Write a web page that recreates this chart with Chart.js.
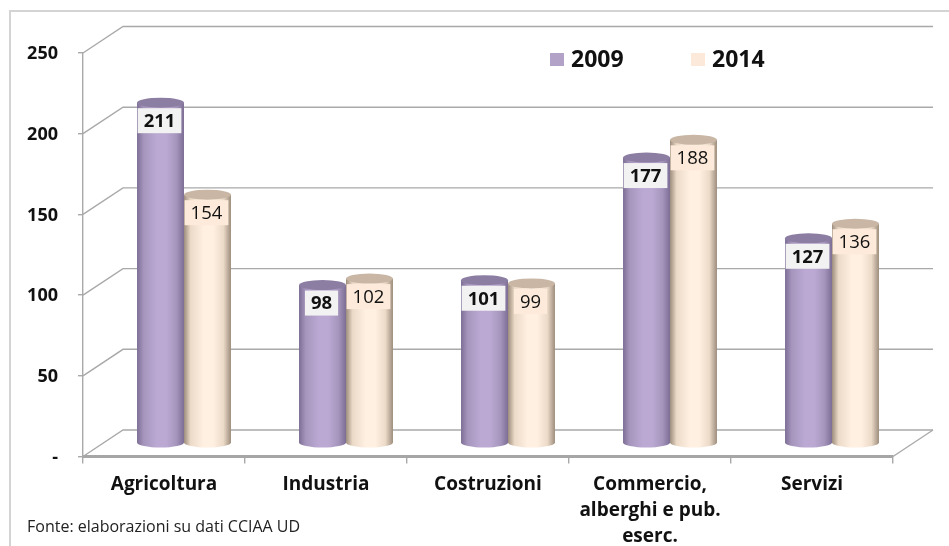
<!DOCTYPE html>
<html lang="it">
<head>
<meta charset="utf-8">
<title>Imprese per settore 2009-2014</title>
<style>
  html, body { margin: 0; padding: 0; background: #fff; }
  #wrap { width: 949px; height: 546px; }
</style>
<script src="https://cdn.jsdelivr.net/npm/chart.js@4"></script>
</head>
<body>
<div id="wrap"><canvas id="chart" width="949" height="546"></canvas></div>
<script>
/* ── Data ── */
const CATEGORIES = ['Agricoltura', 'Industria', 'Costruzioni', ['Commercio,', 'alberghi e pub.', 'eserc.'], 'Servizi'];
const VALUES_2009 = [211, 98, 101, 177, 127];
const VALUES_2014 = [154, 102, 99, 188, 136];
const Y_TICKS = { 0: '-', 50: '50', 100: '100', 150: '150', 200: '200', 250: '250' };
const SOURCE_NOTE = 'Fonte: elaborazioni su dati CCIAA UD';

/* ── Look of the pseudo-3D box ── */
const FONT = '"Open Sans", sans-serif';
const DEPTH_X = 40;
const DEPTH_Y = 26.5;
const GRID = '#a9a9a9';
const SKINS = [
  { edge: '#7d6e96', near: '#a595bc', mid: '#bba9d3', top: '#8c7da3', swatch: '#b3a2c7', box: '#f2f2f2', font: 'bold 18.5px ' + FONT },
  { edge: '#9d8d7c', near: '#ecdac8', mid: '#fff0e2', top: '#c9b6a4', swatch: '#fde9d9', box: '#fdeada', font: '18.5px ' + FONT },
];

/* ── Walls, floor and gridlines, behind the bars ── */
const boxPlugin = {
  id: 'box',
  beforeDatasetsDraw(chart) {
    const { ctx, chartArea: a, scales: { y } } = chart;
    ctx.save();
    ctx.strokeStyle = GRID;
    ctx.lineWidth = 1.4;
    y.ticks.forEach(t => {
      const py = y.getPixelForValue(t.value);
      ctx.beginPath();
      ctx.moveTo(a.left, py);
      ctx.lineTo(a.left + DEPTH_X, py - DEPTH_Y);
      ctx.lineTo(a.right + DEPTH_X, py - DEPTH_Y);
      ctx.stroke();
    });
    // right edge of the floor
    ctx.beginPath();
    ctx.moveTo(a.right, a.bottom);
    ctx.lineTo(a.right + DEPTH_X, a.bottom - DEPTH_Y);
    ctx.stroke();

    // y labels sit a touch lower than the stock tick text
    ctx.fillStyle = '#111';
    ctx.font = 'bold 18px ' + FONT;
    ctx.textAlign = 'right';
    ctx.textBaseline = 'middle';
    y.ticks.forEach(t => {
      ctx.fillText(Y_TICKS[t.value], 58, y.getPixelForValue(t.value) + 1);
    });
    ctx.restore();
  },
};

/* ── Cylinders, value boxes, legend and source note ── */
function drawCylinder(ctx, bar, skin) {
  const left = bar.x - bar.width / 2;
  const right = bar.x + bar.width / 2;
  const rx = bar.width / 2;
  const ry = 5;

  const grad = ctx.createLinearGradient(left, 0, right, 0);
  grad.addColorStop(0, skin.edge);
  grad.addColorStop(0.14, skin.near);
  grad.addColorStop(0.42, skin.mid);
  grad.addColorStop(0.62, skin.mid);
  grad.addColorStop(0.84, skin.near);
  grad.addColorStop(1, skin.edge);

  ctx.fillStyle = grad;
  ctx.beginPath();
  ctx.moveTo(left, bar.y);
  ctx.lineTo(left, bar.base);
  ctx.ellipse(bar.x, bar.base, rx, ry, 0, Math.PI, 0, true);
  ctx.lineTo(right, bar.y);
  ctx.closePath();
  ctx.fill();

  ctx.fillStyle = skin.top;
  ctx.beginPath();
  ctx.ellipse(bar.x, bar.y, rx, ry, 0, 0, Math.PI * 2);
  ctx.fill();
}

function drawValueBox(ctx, bar, value, skin) {
  ctx.font = skin.font;
  const w = ctx.measureText(value).width + 12;
  const cx = bar.x - 1;
  const cy = bar.y + 18;
  ctx.fillStyle = skin.box;
  ctx.fillRect(cx - w / 2, cy - 12.5, w, 25);
  ctx.fillStyle = '#111';
  ctx.textAlign = 'center';
  ctx.textBaseline = 'middle';
  ctx.fillText(value, cx, cy + 1);
}

const cylinderPlugin = {
  id: 'cylinders',
  // the stock rectangles are replaced by cylinders drawn left to right
  beforeDatasetDraw() { return false; },
  afterDatasetsDraw(chart) {
    const { ctx } = chart;
    ctx.save();
    ctx.translate(DEPTH_X / 2, -DEPTH_Y / 2);
    chart.data.labels.forEach((_, i) => {
      chart.data.datasets.forEach((ds, d) => {
        drawCylinder(ctx, chart.getDatasetMeta(d).data[i], SKINS[d]);
      });
    });
    chart.data.labels.forEach((_, i) => {
      chart.data.datasets.forEach((ds, d) => {
        drawValueBox(ctx, chart.getDatasetMeta(d).data[i], String(ds.data[i]), SKINS[d]);
      });
    });
    ctx.restore();

    ctx.save();
    ctx.textBaseline = 'middle';
    ctx.textAlign = 'left';
    chart.data.datasets.forEach((ds, d) => {
      const x = 550 + d * 141;
      ctx.fillStyle = SKINS[d].swatch;
      ctx.fillRect(x, 53, 14, 13);
      ctx.fillStyle = '#111';
      ctx.font = 'bold 23px ' + FONT;
      ctx.fillText(ds.label, x + 21, 60);
    });
    ctx.fillStyle = '#222';
    ctx.font = '16px ' + FONT;
    ctx.fillText(SOURCE_NOTE, 27, 527);

    // page frame, top and left only
    ctx.strokeStyle = '#d4d4d4';
    ctx.lineWidth = 2;
    ctx.beginPath();
    ctx.moveTo(949, 11);
    ctx.lineTo(10, 11);
    ctx.lineTo(10, 546);
    ctx.stroke();
    ctx.restore();
  },
};

new Chart(document.getElementById('chart'), {
  type: 'bar',
  plugins: [boxPlugin, cylinderPlugin],
  data: {
    labels: CATEGORIES,
    datasets: [
      { label: '2009', data: VALUES_2009, backgroundColor: '#b3a2c7' },
      { label: '2014', data: VALUES_2014, backgroundColor: '#fde9d9' },
    ],
  },
  options: {
    responsive: false,
    animation: false,
    layout: { padding: { top: 53, right: 56, bottom: 0, left: 0 } },
    datasets: { bar: { barPercentage: 1, categoryPercentage: 0.58 } },
    plugins: { legend: { display: false }, tooltip: { enabled: false } },
    scales: {
      x: {
        afterFit: s => { s.height = 89.5; },
        grid: { drawOnChartArea: false, color: GRID, lineWidth: 1.4, tickLength: 7 },
        border: { color: '#a6a6a6', width: 3 },
        ticks: {
          autoSkip: false, maxRotation: 0, padding: 8, color: '#111',
          font: { family: FONT, weight: 'bold', size: 19, lineHeight: 1.37 },
        },
      },
      y: {
        min: 0,
        max: 250,
        afterFit: s => { s.width = 83; },
        grid: { drawOnChartArea: false, color: GRID, lineWidth: 1.4, tickLength: 5 },
        border: { color: GRID, width: 1.4 },
        ticks: {
          stepSize: 50,
          // labels are drawn in boxPlugin, the marks stay here
          callback: () => '',
        },
      },
    },
  },
});
</script>
</body>
</html>
